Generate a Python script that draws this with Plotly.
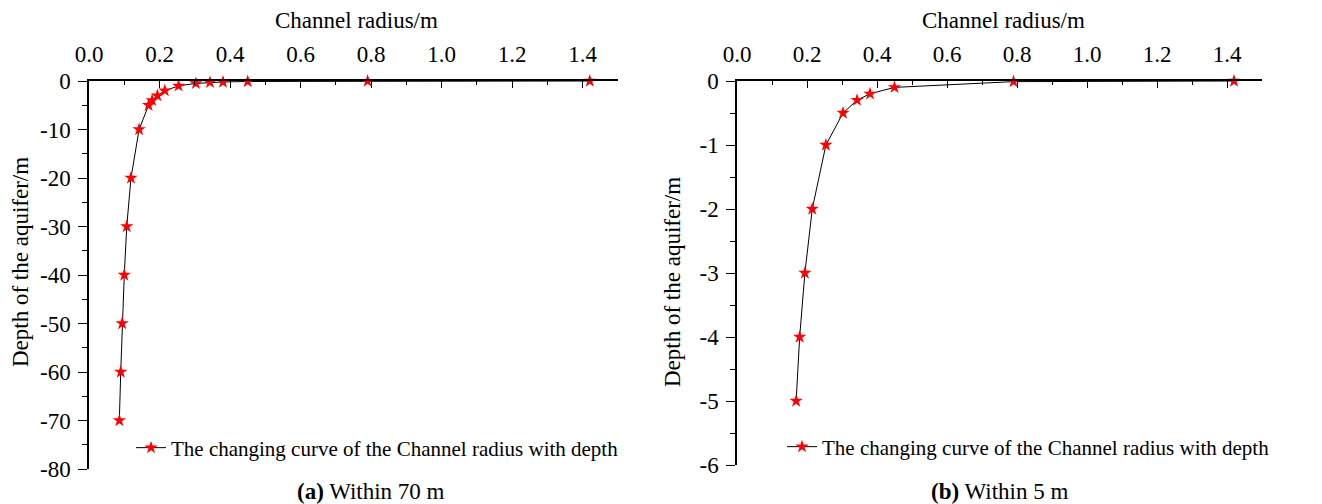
import plotly.graph_objects as go

# Data
depth = [0, -0.01, -0.1, -0.2, -0.3, -0.5, -1, -2, -3, -4, -5, -10, -20, -30, -40, -50, -60, -70]
radius = [1.42, 0.79, 0.45, 0.38, 0.343, 0.303, 0.254, 0.215, 0.194, 0.179, 0.169, 0.142, 0.119, 0.107, 0.100, 0.094, 0.090, 0.086]
series_name = "The changing curve of the Channel radius with depth"

x_ticks = [0.0, 0.2, 0.4, 0.6, 0.8, 1.0, 1.2, 1.4]
x_ticklabels = ["0.0", "0.2", "0.4", "0.6", "0.8", "1.0", "1.2", "1.4"]
ya_ticks = [0, -10, -20, -30, -40, -50, -60, -70, -80]
ya_ticklabels = ["0", "-10", "-20", "-30", "-40", "-50", "-60", "-70", "-80"]
yb_ticks = [0, -1, -2, -3, -4, -5, -6]
yb_ticklabels = ["0", "-1", "-2", "-3", "-4", "-5", "-6"]

depth_b = [d for d in depth if d >= -5]
radius_b = [r for r, d in zip(radius, depth) if d >= -5]

W, H = 1322, 504
FONT = "Liberation Serif"

def px_x(p):
    return p / W

def px_y(p):
    return 1 - p / H

fig = go.Figure()
marker = dict(symbol="star", size=10, color="red", line=dict(width=0))
fig.add_trace(go.Scatter(x=radius, y=depth, mode="lines+markers", name=series_name,
                         line=dict(color="black", width=1), marker=marker,
                         xaxis="x", yaxis="y", legend="legend", cliponaxis=False))
fig.add_trace(go.Scatter(x=radius_b, y=depth_b, mode="lines+markers", name=series_name,
                         line=dict(color="black", width=1), marker=marker,
                         xaxis="x2", yaxis="y2", legend="legend2", cliponaxis=False))

tickfont = dict(family=FONT, size=23, color="black")
xcommon = dict(side="top", range=[0, 1.5], tickmode="array", tickvals=x_ticks, ticktext=x_ticklabels,
               showline=True, linecolor="black", linewidth=1.5, ticks="inside", ticklen=7,
               tickwidth=1.2, tickcolor="black", showgrid=False, zeroline=False,
               tickfont=tickfont, ticklabelstandoff=8,
               minor=dict(ticks="inside", ticklen=4, dtick=0.1, tick0=0, tickcolor="black", tickwidth=1.2),
               automargin=False, fixedrange=True)
ycommon = dict(showline=True, linecolor="black", linewidth=1.5, ticks="outside", ticklen=9,
               tickwidth=1.2, tickcolor="black", showgrid=False, zeroline=False,
               tickfont=tickfont, ticklabelstandoff=3, tickmode="array",
               automargin=False, fixedrange=True)

fig.update_layout(
    width=W, height=H, margin=dict(l=0, r=0, t=0, b=0),
    paper_bgcolor="white", plot_bgcolor="white",
    font=dict(family=FONT, color="black"),
    xaxis=dict(domain=[px_x(89), px_x(618)], anchor="y", **xcommon),
    yaxis=dict(domain=[px_y(469), px_y(81)], anchor="x", range=[-80, 0],
               tickvals=ya_ticks, ticktext=ya_ticklabels,
               minor=dict(ticks="outside", ticklen=5, dtick=5, tick0=0, tickcolor="black", tickwidth=1.2),
               **ycommon),
    xaxis2=dict(domain=[px_x(737), px_x(1262)], anchor="y2", **xcommon),
    yaxis2=dict(domain=[px_y(465), px_y(81)], anchor="x2", range=[-6, 0],
                tickvals=yb_ticks, ticktext=yb_ticklabels,
                minor=dict(ticks="outside", ticklen=5, dtick=0.5, tick0=0, tickcolor="black", tickwidth=1.2),
                **ycommon),
    legend=dict(x=px_x(131), y=px_y(448), xanchor="left", yanchor="middle",
                bgcolor="rgba(0,0,0,0)", font=dict(family=FONT, size=21, color="black")),
    legend2=dict(x=px_x(782), y=px_y(447), xanchor="left", yanchor="middle",
                 bgcolor="rgba(0,0,0,0)", font=dict(family=FONT, size=21, color="black")),
    showlegend=True,
)

annots = [
    dict(text="Channel radius/m", x=px_x(357), y=px_y(21)),
    dict(text="Channel radius/m", x=px_x(1003), y=px_y(21)),
    dict(text="Depth of the aquifer/m", x=px_x(20), y=px_y(262), textangle=-90),
    dict(text="Depth of the aquifer/m", x=px_x(672), y=px_y(282), textangle=-90),
    dict(text="<b>(a)</b> Within 70 m", x=px_x(371), y=px_y(491)),
    dict(text="<b>(b)</b> Within 5 m", x=px_x(1000), y=px_y(491)),
]
for a in annots:
    fig.add_annotation(xref="paper", yref="paper", showarrow=False, xanchor="center",
                       yanchor="middle", font=dict(family=FONT, size=23, color="black"), **a)

fig.write_html("out.html", config={"displayModeBar": False},
               post_script="document.body.style.margin='0px';document.body.style.overflow='hidden';")
